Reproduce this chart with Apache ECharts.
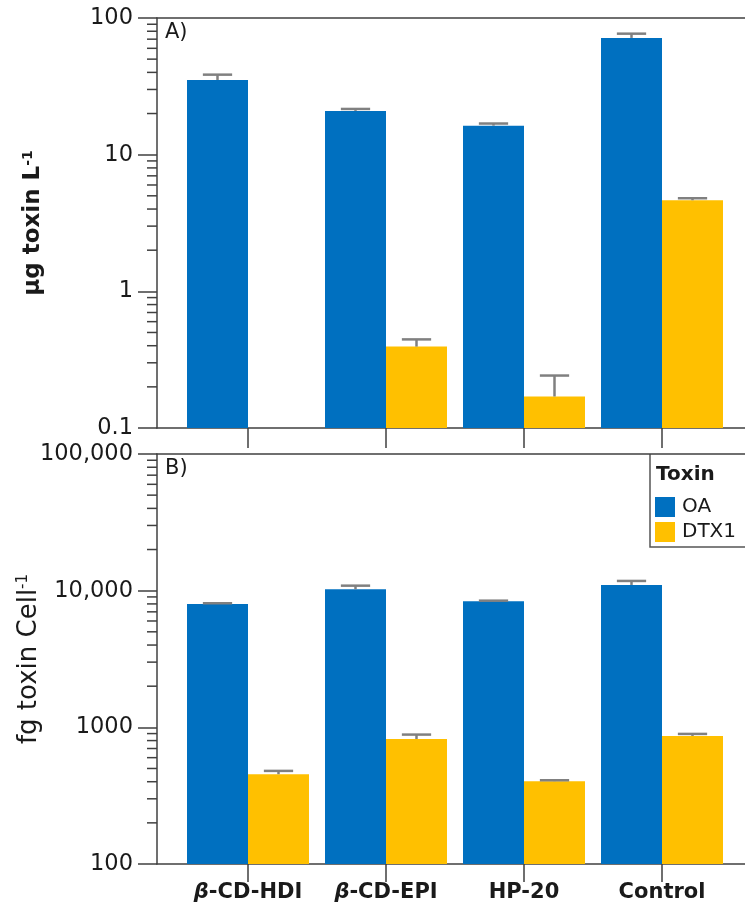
<!DOCTYPE html>
<html>
<head>
<meta charset="utf-8">
<script src="https://cdn.jsdelivr.net/npm/echarts@6/dist/echarts.min.js"></script>
<style>
  html, body { margin: 0; padding: 0; background: #fff; }
  #chart { width: 745px; height: 910px; }
</style>
</head>
<body>
<div id="chart"></div>
<script>
// Treatments along the x axis
const categories = ['β-CD-HDI', 'β-CD-EPI', 'HP-20', 'Control'];

// Panel A: toxin in water (µg/L), means and upper error
const oaWater = [35.2, 20.9, 16.3, 71.5];
const oaWaterErr = [3.3, 0.7, 0.6, 5.3];
const dtxWater = [null, 0.394, 0.170, 4.64];
const dtxWaterErr = [null, 0.051, 0.072, 0.16];

// Panel B: toxin per cell (fg/cell), means and upper error
const oaCell = [8000, 10240, 8365, 11010];
const oaCellErr = [90, 640, 85, 770];
const dtxCell = [454, 822, 404, 865];
const dtxCellErr = [26, 63, 6, 30];

// Decade ticks and their printed labels
const ticksWater = [0.1, 1, 10, 100];
const tickLabelsWater = ['0.1', '1', '10', '100'];
const ticksCell = [100, 1000, 10000, 100000];
const tickLabelsCell = ['100', '1000', '10,000', '100,000'];

const FONT = 'DejaVu Sans';
const AXIS_COLOR = '#404040';
const TEXT_COLOR = '#1a1a1a';
const OA_COLOR = '#0070C0';
const DTX_COLOR = '#FFC000';
const ERR_COLOR = '#808080';
const GAP = 0.116;

// Minor log ticks (2..9 within each decade)
function minorTicks(majors) {
  const out = [];
  for (let i = 0; i < majors.length - 1; i++) {
    for (let m = 2; m <= 9; m++) out.push([0, majors[i] * m]);
  }
  return out;
}

function labelFor(ticks, labels) {
  return function (v) {
    for (let i = 0; i < ticks.length; i++) {
      if (Math.abs(Math.log10(ticks[i]) - Math.log10(v)) < 1e-6) return labels[i];
    }
    return '';
  };
}

function errorItems(values, errs, slot) {
  const out = [];
  values.forEach(function (v, i) {
    if (v != null) out.push([i, v, v + errs[i], slot]);
  });
  return out;
}

const renderError = function (params, api) {
  const base = api.coord([api.value(0), api.value(1)]);
  const top = api.coord([api.value(0), api.value(2)]);
  const band = api.size([1, 0])[0];
  const barW = band * (1 - GAP) / 2;
  const cx = base[0] + (api.value(3) === 0 ? -barW / 2 : barW / 2);
  const half = barW * 0.24;
  const style = { stroke: ERR_COLOR, lineWidth: 2.5 };
  return {
    type: 'group',
    children: [
      { type: 'line', shape: { x1: cx, y1: base[1], x2: cx, y2: top[1] }, style: style },
      { type: 'line', shape: { x1: cx - half, y1: top[1], x2: cx + half, y2: top[1] }, style: style }
    ]
  };
};

const renderMinor = function (params, api) {
  const p = api.coord([api.value(0), api.value(1)]);
  return {
    type: 'line',
    shape: { x1: p[0] - 10, y1: p[1], x2: p[0], y2: p[1] },
    style: { stroke: AXIS_COLOR, lineWidth: 1.5 }
  };
};

const frameX = function (gridIndex, position) {
  return {
    type: 'value', gridIndex: gridIndex, position: position, min: 0, max: 1,
    axisLine: { show: true, lineStyle: { color: AXIS_COLOR, width: 1.5 } },
    axisTick: { show: false }, axisLabel: { show: false }, splitLine: { show: false }
  };
};

const frameY = function (gridIndex, min, max, ticks, labels, name, nameGap, nameStyle) {
  return {
    type: 'log', logBase: 10, gridIndex: gridIndex, min: min, max: max,
    axisLine: { show: true, lineStyle: { color: AXIS_COLOR, width: 1.5 } },
    axisTick: { show: true, length: 19, lineStyle: { color: AXIS_COLOR, width: 1.5 } },
    axisLabel: {
      margin: 24, fontFamily: FONT, fontSize: 22.5, color: TEXT_COLOR,
      formatter: labelFor(ticks, labels)
    },
    splitLine: { show: false },
    name: name,
    nameLocation: 'middle',
    nameRotate: 90,
    nameGap: nameGap,
    nameMoveOverlap: false,
    nameTextStyle: nameStyle
  };
};

const dataY = function (gridIndex, min, max) {
  return {
    type: 'log', logBase: 10, gridIndex: gridIndex, min: min, max: max,
    startValue: min, show: false, splitLine: { show: false }
  };
};

const catAxis = function (gridIndex, showLabels) {
  return {
    type: 'category', gridIndex: gridIndex, data: categories,
    axisLine: { show: false },
    axisTick: { show: true, interval: 0, alignWithLabel: true, length: showLabels ? 18 : 20,
      lineStyle: { color: AXIS_COLOR, width: 1.5 } },
    axisLabel: {
      show: showLabels, interval: 0, margin: 18, fontFamily: FONT, fontSize: 21, fontWeight: 'bold',
      color: TEXT_COLOR,
      formatter: function (v) { return v.replace('β', '{i|β}'); },
      rich: {
        i: { fontFamily: FONT, fontSize: 21, fontWeight: 'bold', fontStyle: 'italic', color: TEXT_COLOR }
      }
    },
    splitLine: { show: false }
  };
};

const barSeries = function (name, values, color, xIdx, yIdx) {
  return {
    type: 'bar', name: name, data: values, xAxisIndex: xIdx, yAxisIndex: yIdx,
    barGap: '0%', barCategoryGap: (GAP * 100) + '%',
    itemStyle: { color: color }, z: 2
  };
};

const gridBox = function (left, width, top) {
  const g = { left: left, top: top, height: 410, outerBoundsMode: 'none', containLabel: false };
  if (width == null) g.right = 0; else g.width = width;
  return g;
};

const chart = echarts.init(document.getElementById('chart'), null, { renderer: 'canvas' });

chart.setOption({
  animation: false,
  backgroundColor: '#ffffff',
  textStyle: { fontFamily: FONT },
  title: [
    { text: 'A)', left: 165, top: 22, textStyle: { fontFamily: FONT, fontSize: 21, fontWeight: 'normal', color: TEXT_COLOR }, padding: 0 },
    { text: 'B)', left: 165, top: 458, textStyle: { fontFamily: FONT, fontSize: 21, fontWeight: 'normal', color: TEXT_COLOR }, padding: 0 },
    { text: 'Toxin', left: 656, top: 465, textStyle: { fontFamily: FONT, fontSize: 20, fontWeight: 'bold', color: TEXT_COLOR }, padding: 0 }
  ],
  legend: {
    orient: 'vertical', left: 650, top: 454,
    padding: [43, 5, 5, 5],
    itemWidth: 20, itemHeight: 20, itemGap: 5,
    icon: 'rect',
    borderWidth: 0,
    textStyle: { fontFamily: FONT, fontSize: 20, color: TEXT_COLOR, padding: [0, 0, 0, 2] },
    data: ['OA', 'DTX1']
  },
  // Legend frame: left and bottom edges, the box runs off the right side
  graphic: [{
    type: 'polyline',
    shape: { points: [[650, 454], [650, 547], [746, 547]] },
    style: { stroke: '#555555', lineWidth: 1.5, fill: null },
    silent: true
  }],
  grid: [
    gridBox(157, null, 18),
    gridBox(179, 552, 18),
    gridBox(157, null, 454),
    gridBox(179, 552, 454)
  ],
  xAxis: [
    frameX(0, 'bottom'),
    frameX(0, 'top'),
    catAxis(1, false),
    frameX(2, 'bottom'),
    frameX(2, 'top'),
    catAxis(3, true)
  ],
  yAxis: [
    frameY(0, 0.1, 100, ticksWater, tickLabelsWater,
      '{t|µg toxin L}{s|-1}', 112,
      { rich: {
        t: { fontFamily: FONT, fontSize: 23, fontWeight: 'bold', color: TEXT_COLOR },
        s: { fontFamily: FONT, fontSize: 14, fontWeight: 'bold', color: TEXT_COLOR, verticalAlign: 'top', padding: [0, 0, 10, 0] }
      } }),
    dataY(1, 0.1, 100),
    frameY(2, 100, 100000, ticksCell, tickLabelsCell,
      '{t|fg toxin Cell}{s|-1}', 114,
      { rich: {
        t: { fontFamily: FONT, fontSize: 26, fontWeight: 'normal', color: TEXT_COLOR },
        s: { fontFamily: FONT, fontSize: 15, fontWeight: 'normal', color: TEXT_COLOR, verticalAlign: 'top', padding: [0, 0, 12, 0] }
      } }),
    dataY(3, 100, 100000)
  ],
  series: [
    barSeries('OA', oaWater, OA_COLOR, 2, 1),
    barSeries('DTX1', dtxWater, DTX_COLOR, 2, 1),
    barSeries('OA', oaCell, OA_COLOR, 5, 3),
    barSeries('DTX1', dtxCell, DTX_COLOR, 5, 3),
    {
      type: 'custom', xAxisIndex: 2, yAxisIndex: 1, z: 5, clip: false,
      renderItem: renderError,
      data: errorItems(oaWater, oaWaterErr, 0).concat(errorItems(dtxWater, dtxWaterErr, 1)),
      silent: true
    },
    {
      type: 'custom', xAxisIndex: 5, yAxisIndex: 3, z: 5, clip: false,
      renderItem: renderError,
      data: errorItems(oaCell, oaCellErr, 0).concat(errorItems(dtxCell, dtxCellErr, 1)),
      silent: true
    },
    {
      type: 'custom', xAxisIndex: 0, yAxisIndex: 0, clip: false, silent: true,
      renderItem: renderMinor, data: minorTicks(ticksWater)
    },
    {
      type: 'custom', xAxisIndex: 3, yAxisIndex: 2, clip: false, silent: true,
      renderItem: renderMinor, data: minorTicks(ticksCell)
    }
  ]
});
</script>
</body>
</html>
